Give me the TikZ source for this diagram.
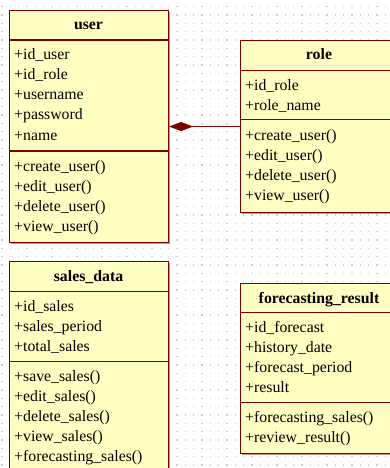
\documentclass[tikz,border=0pt]{standalone}
\usepackage{fontspec}
\setmainfont{Liberation Serif}
\usetikzlibrary{arrows.meta,shadows}
\definecolor{umlline}{RGB}{128,0,0}
\definecolor{umlfill}{RGB}{255,255,194}
\definecolor{umlshade}{RGB}{205,140,140}
\definecolor{griddot}{RGB}{205,205,205}
\tikzset{
  classbox/.style={rectangle, draw=umlline, fill=umlfill, line width=1.1pt,
    anchor=north west, inner sep=0pt,
    drop shadow={shadow xshift=1.4pt, shadow yshift=-1.4pt, fill=umlshade, opacity=1}},
  divider/.style={draw=umlline, line width=1.1pt},
  head/.style={anchor=base, inner sep=0pt, font=\fontsize{15.8}{20}\selectfont\bfseries},
  member/.style={anchor=base west, inner sep=0pt, font=\fontsize{15.8}{20}\selectfont},
  link/.style={draw=umlline, line width=1.1pt},
}
\begin{document}
\begin{tikzpicture}[x=1pt, y=-1pt]
\useasboundingbox (0,0) rectangle (389,468);
\fill[white] (0,0) rectangle (389,468);

% dotted drawing grid
\foreach \i in {0,...,46} {
  \foreach \j in {0,...,56} {
    \fill[griddot] ({2+8.333*\i-0.6},{6.667+8.333*\j-0.6}) rectangle +(1.2,1.2);
  }
}

% user
\node[classbox, minimum width=159pt, minimum height=232pt] (user) at (9,10) {};
\draw[divider] (user.west |- 0,40) -- (user.east |- 0,40);
\draw[divider] (user.west |- 0,151) -- (user.east |- 0,151);
\node[head] (user-h) at (88.5,29.5) {user};
\node[member] (user-a1) at (14,60) {+id\_user};
\node[member] (user-a2) at (14,80) {+id\_role};
\node[member] (user-a3) at (14,100) {+username};
\node[member] (user-a4) at (14,120) {+password};
\node[member] (user-a5) at (14,140) {+name};
\node[member] (user-m1) at (14,171) {+create\_user()};
\node[member] (user-m2) at (14,191) {+edit\_user()};
\node[member] (user-m3) at (14,211) {+delete\_user()};
\node[member] (user-m4) at (14,231) {+view\_user()};

% role
\node[classbox, minimum width=158pt, minimum height=172pt] (role) at (240,40) {};
\draw[divider] (role.west |- 0,70.7) -- (role.east |- 0,70.7);
\draw[divider] (role.west |- 0,119.3) -- (role.east |- 0,119.3);
\node[head] (role-h) at (319,60) {role};
\node[member] (role-a1) at (245,90.5) {+id\_role};
\node[member] (role-a2) at (245,110.5) {+role\_name};
\node[member] (role-m1) at (245,140) {+create\_user()};
\node[member] (role-m2) at (245,160) {+edit\_user()};
\node[member] (role-m3) at (245,180) {+delete\_user()};
\node[member] (role-m4) at (245,200) {+view\_user()};

% sales_data
\node[classbox, minimum width=159pt, minimum height=230pt] (sales) at (9,261) {};
\draw[divider] (sales.west |- 0,291.7) -- (sales.east |- 0,291.7);
\draw[divider] (sales.west |- 0,361.7) -- (sales.east |- 0,361.7);
\node[head] (sales-h) at (88.5,281.5) {sales\_data};
\node[member] (sales-a1) at (14,311.5) {+id\_sales};
\node[member] (sales-a2) at (14,331.5) {+sales\_period};
\node[member] (sales-a3) at (14,351.5) {+total\_sales};
\node[member] (sales-m1) at (14,381.5) {+save\_sales()};
\node[member] (sales-m2) at (14,401.5) {+edit\_sales()};
\node[member] (sales-m3) at (14,421.5) {+delete\_sales()};
\node[member] (sales-m4) at (14,441.5) {+view\_sales()};
\node[member] (sales-m5) at (14,461.5) {+forecasting\_sales()};

% forecasting_result
\node[classbox, minimum width=158pt, minimum height=170.3pt] (fres) at (240,282.7) {};
\draw[divider] (fres.west |- 0,312.7) -- (fres.east |- 0,312.7);
\draw[divider] (fres.west |- 0,402.7) -- (fres.east |- 0,402.7);
\node[head] (fres-h) at (319,303) {forecasting\_result};
\node[member] (fres-a1) at (245,332.7) {+id\_forecast};
\node[member] (fres-a2) at (245,352.7) {+history\_date};
\node[member] (fres-a3) at (245,372.7) {+forecast\_period};
\node[member] (fres-a4) at (245,392.7) {+result};
\node[member] (fres-m1) at (245,422.2) {+forecasting\_sales()};
\node[member] (fres-m2) at (245,442.2) {+review\_result()};

% composition: role is part of user
\draw[link, -{Diamond[length=24pt, width=9pt, fill=umlline]}] (role.west) -- (user.east);
\end{tikzpicture}
\end{document}
